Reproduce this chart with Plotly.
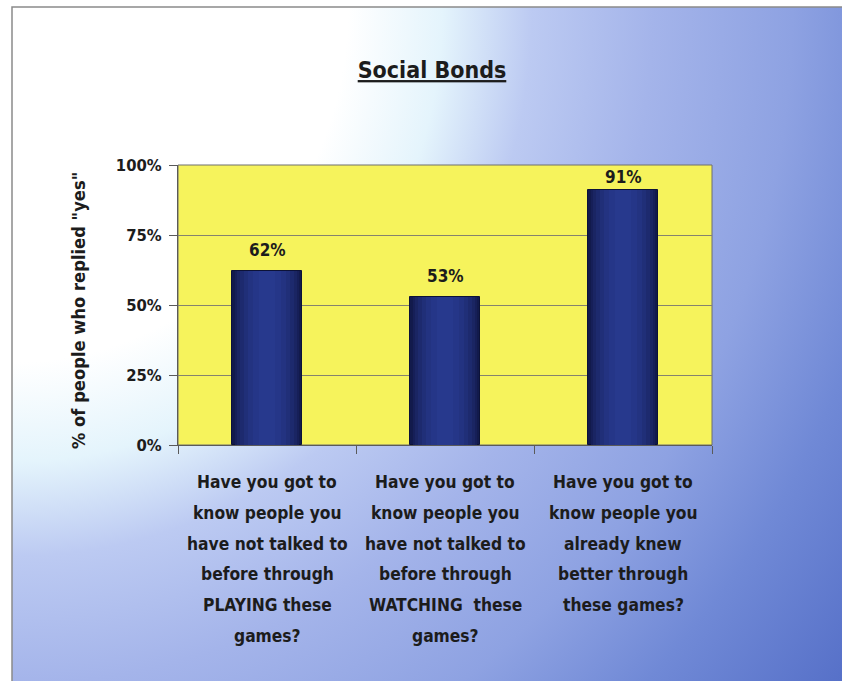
import base64
import plotly.graph_objects as go

# --- data -------------------------------------------------------------
categories = [
    "Have you got to<br>know people you<br>have not talked to<br>before through<br>PLAYING these<br>games?",
    "Have you got to<br>know people you<br>have not talked to<br>before through<br>WATCHING  these<br>games?",
    "Have you got to<br>know people you<br>already knew<br>better through<br>these games?",
]
share_yes = [0.62, 0.53, 0.91]
y_ticks = [0, 0.25, 0.5, 0.75, 1.0]
y_tick_labels = ["0%", "25%", "50%", "75%", "100%"]

# --- page geometry (pixels) -------------------------------------------
W, H = 842, 681
L, R, T, B = 178, 130, 165, 236
PW, PH = W - L - R, H - T - B
FRAME_X, FRAME_Y = 12, 7

FONT = "DejaVu Sans Condensed, sans-serif"
INK = "#1c1c1c"


def px_to_paper_x(px):
    return (px - L) / PW


def px_to_paper_y(py):
    return (H - B - py) / PH


# slide background: fade from a white top-left corner into blue
fw, fh = W - FRAME_X, H - FRAME_Y
svg = f"""<svg xmlns="http://www.w3.org/2000/svg" width="{fw}" height="{fh}" viewBox="0 0 {fw} {fh}" preserveAspectRatio="none">
<defs>
<radialGradient id="g" gradientUnits="userSpaceOnUse" cx="0" cy="0" r="1" gradientTransform="scale(1050 1110)">
<stop offset="0" stop-color="#ffffff"/>
<stop offset="0.32" stop-color="#ffffff"/>
<stop offset="0.41" stop-color="#e4f4fc"/>
<stop offset="0.495" stop-color="#bccaf2"/>
<stop offset="0.61" stop-color="#a4b4ea"/>
<stop offset="0.743" stop-color="#8ea2e2"/>
<stop offset="0.857" stop-color="#7089d6"/>
<stop offset="1" stop-color="#5670c8"/>
</radialGradient>
</defs>
<rect width="{fw}" height="{fh}" fill="url(#g)"/>
</svg>"""
bg_uri = "data:image/svg+xml;base64," + base64.b64encode(svg.encode()).decode()

fig = go.Figure()

# bars: overlays of narrowing widths give a rounded, shaded look
shades = ["#121a4c", "#161f58", "#1a2563", "#1d2a6e", "#202f78", "#233381", "#253688", "#27398d"]
widths = [0.39, 0.365, 0.335, 0.30, 0.26, 0.21, 0.155, 0.09]
for i, (c, w) in enumerate(zip(shades, widths)):
    fig.add_trace(go.Bar(
        x=categories, y=share_yes, width=w,
        marker=dict(color=c, line=dict(color="#0c1238", width=1 if i == 0 else 0)),
        hoverinfo="skip", showlegend=False,
    ))

annotations = []
# value labels above the bars
for cat, v in zip(categories, share_yes):
    shift = min(21, (1 - v) * PH - 12)
    annotations.append(dict(
        x=cat, y=v, xref="x", yref="y", text=f"{v:.0%}", showarrow=False,
        yanchor="middle", yshift=shift,
        font=dict(family=FONT, size=17, color=INK, weight="bold"),
    ))

# category labels, one line at a time for the wider line spacing
for cat in categories:
    for j, line in enumerate(cat.split("<br>")):
        annotations.append(dict(
            x=cat, y=0, xref="x", yref="paper", text=line, showarrow=False,
            yanchor="middle", yshift=-(37 + 30.8 * j),
            font=dict(family=FONT, size=17.3, color=INK, weight="bold"),
        ))

# y-axis title
annotations.append(dict(
    x=px_to_paper_x(78), y=px_to_paper_y(311), xref="paper", yref="paper",
    text='% of people who replied "yes"', textangle=-90, showarrow=False,
    xanchor="center", yanchor="middle",
    font=dict(family=FONT, size=18.2, color=INK, weight="bold"),
))

shapes = [
    # slide frame
    dict(type="rect", xref="paper", yref="paper", layer="below",
         x0=px_to_paper_x(FRAME_X), x1=px_to_paper_x(W + 5),
         y0=px_to_paper_y(FRAME_Y), y1=px_to_paper_y(H + 5),
         line=dict(color="#8a8a8a", width=1.5), fillcolor="rgba(0,0,0,0)"),
    # yellow plot area
    dict(type="rect", xref="paper", yref="paper", layer="below",
         x0=0, x1=1, y0=0, y1=1,
         line=dict(color="#6e6e6e", width=1), fillcolor="#f6f35c"),
]

fig.update_layout(
    width=W, height=H,
    margin=dict(l=L, r=R, t=T, b=B, pad=0),
    paper_bgcolor="white", plot_bgcolor="rgba(0,0,0,0)",
    barmode="overlay", bargap=0,
    title=dict(
        text="<u>Social Bonds</u>", x=432 / W, xref="container", xanchor="center",
        y=1 - 70 / H, yref="container", yanchor="middle",
        font=dict(family=FONT, size=23, color=INK, weight="bold"),
    ),
    images=[dict(
        source=bg_uri, xref="paper", yref="paper",
        x=px_to_paper_x(FRAME_X), y=px_to_paper_y(FRAME_Y),
        sizex=fw / PW, sizey=fh / PH, xanchor="left", yanchor="top",
        sizing="stretch", layer="below",
    )],
    shapes=shapes,
    annotations=annotations,
    xaxis=dict(
        type="category", range=[-0.5, 2.5], showticklabels=False,
        tickson="boundaries",
        ticks="outside", ticklen=8, tickcolor="#5a5a5a", tickwidth=1,
        showline=True, linecolor="#5a5a5a", linewidth=1, showgrid=False,
        zeroline=False,
    ),
    yaxis=dict(
        range=[0, 1], tickvals=y_ticks, ticktext=y_tick_labels,
        ticks="outside", ticklen=8, tickcolor="#5a5a5a", tickwidth=1,
        showline=True, linecolor="#5a5a5a", linewidth=1,
        showgrid=True, gridcolor="#85826e", gridwidth=1, zeroline=False,
        tickfont=dict(family=FONT, size=16.5, color=INK, weight="bold"),
        ticklabelstandoff=4,
    ),
)

fig.write_html("out.html")
